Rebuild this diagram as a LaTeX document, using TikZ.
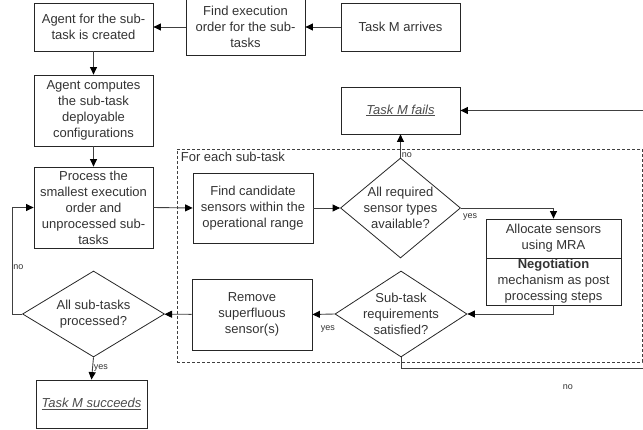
\documentclass[tikz,border=0pt]{standalone}
\usepackage{fontspec}
\setmainfont{Liberation Sans}
\usetikzlibrary{shapes.geometric,arrows.meta,calc}
\definecolor{txt}{HTML}{333333}
\definecolor{ln}{HTML}{404040}
\begin{document}
\begin{tikzpicture}[x=1pt,y=-1pt,
  box/.style={draw=black!85, line width=0.8pt, align=center, text=txt, inner sep=1pt, font=\fontsize{13}{16}\selectfont},
  dia/.style={draw=black!85, line width=0.8pt, diamond, inner sep=0pt},
  dtext/.style={align=center, text=txt, inner sep=0pt, font=\fontsize{13}{16}\selectfont},
  conn/.style={draw=ln, line width=0.9pt, -{Triangle[length=7.5pt,width=7pt,color=black]}},
  lab/.style={text=txt, font=\fontsize{9}{10}\selectfont, inner sep=1pt}]
\useasboundingbox (0,0) rectangle (643,430);

\node[box, minimum width=119pt, minimum height=48pt] (arrive) at (400.5,27) {Task M arrives};
\node[box, minimum width=119pt, minimum height=56pt] (order) at (245.5,27) {Find execution\\order for the sub-\\tasks};
\node[box, minimum width=119pt, minimum height=48pt] (agent) at (93.5,27) {Agent for the sub-\\task is created};
\node[box, minimum width=119pt, minimum height=71pt] (compute) at (93.5,110.5) {Agent computes\\the sub-task\\deployable\\configurations};
\node[box, minimum width=119pt, minimum height=81pt] (process) at (93.5,207.5) {Process the\\smallest execution\\order and\\unprocessed sub-\\tasks};
\node[box, minimum width=111pt, minimum height=48pt, text=black!70] (succeed) at (91.5,404) {\underline{\textit{Task M succeeds}}};
\node[box, minimum width=119pt, minimum height=47pt, text=black!70] (fails) at (400.5,110.5) {\underline{\textit{Task M fails}}};

\node[draw=black!75, dash pattern=on 3pt off 2pt, line width=0.7pt, minimum width=465pt, minimum height=213pt, inner sep=0pt] (frame) at (409.5,255.5) {};
\node[anchor=north west, text=txt, inner sep=0pt, font=\fontsize{13}{16}\selectfont] (fortitle) at ($(frame.north west)+(4,3)$) {For each sub-task};

\node[box, minimum width=120pt, minimum height=70pt] (find) at (253,208) {Find candidate\\sensors within the\\operational range};
\node[dia, minimum width=120pt, minimum height=100pt] (d1) at (400.5,208) {};
\node[dtext] (d1t) at (d1.center) {All required\\sensor types\\available?};
\node[box, minimum width=135pt, minimum height=39pt] (alloca) at (553.5,238.5) {Allocate sensors\\using MRA};
\node[box, minimum width=135pt, minimum height=47pt] (allocb) at (553.5,281.5) {\textbf{Negotiation}\\mechanism as post\\processing steps};
\node[dia, minimum width=132pt, minimum height=86pt] (d2) at (401,314) {};
\node[dtext] (d2t) at (d2.center) {Sub-task\\requirements\\satisfied?};
\node[box, minimum width=120pt, minimum height=71pt] (remove) at (252,314.5) {Remove\\superfluous\\sensor(s)};
\node[dia, minimum width=142pt, minimum height=86pt] (d3) at (93.5,314) {};
\node[dtext] (d3t) at (d3.center) {All sub-tasks\\processed?};

\coordinate (lb) at (12,314);
\coordinate (rb) at (401,368);
\coordinate (rc) at (650,368);
\coordinate (rd) at (650,110.5);

\draw[conn] (arrive) -- (order);
\draw[conn] (order) -- (agent);
\draw[conn] (agent) -- (compute);
\draw[conn] (compute) -- (process);
\draw[conn] (process.east) -- (find.west);
\draw[conn] (find) -- (d1);
\draw[conn] (d1.north) -- node[lab, pos=0.12, right] {no} (fails.south);
\draw[conn] (d1.east) -| node[lab, pos=0.05, below=4pt] {yes} (alloca.north);
\draw[conn] (allocb.south) |- (d2.east);
\draw[conn] (d2.west) -- node[lab, pos=0.3, below=10pt] {yes} (remove.east);
\draw[conn] (remove) -- (d3);
\draw[conn] (d3.south) -- node[lab, midway, right] {yes} (succeed.north);
\draw[conn] (d3.west) -- (lb) |- node[lab, pos=0.22, right] {no} (process.west);
\draw[conn] (d2.south) -- (rb) -- node[lab, pos=0.67, below=15pt] {no} (rc) -- (rd) -- (fails.east);
\end{tikzpicture}
\end{document}
